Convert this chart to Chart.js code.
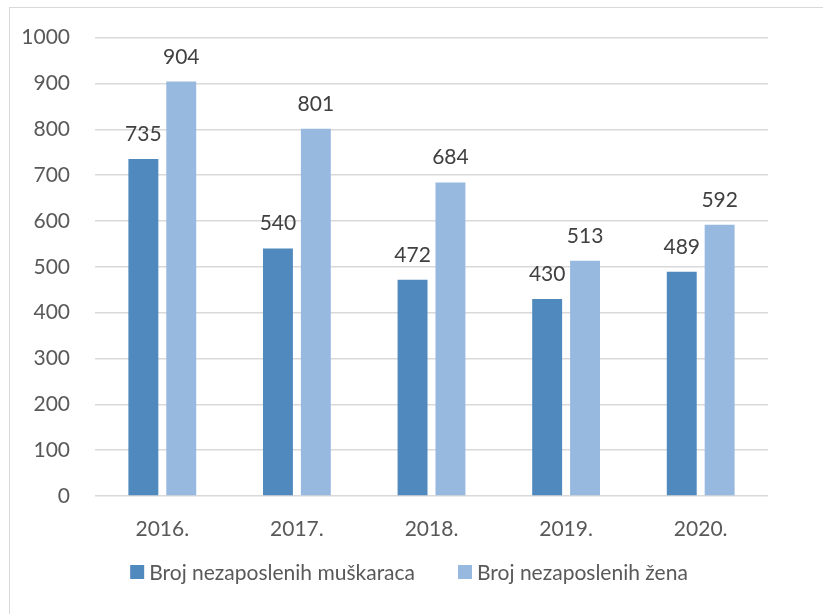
<!DOCTYPE html>
<html>
<head>
<meta charset="utf-8">
<script src="https://cdn.jsdelivr.net/npm/chart.js@4.4.1/dist/chart.umd.min.js"></script>
<style>
    html, body { margin: 0; padding: 0; background: #fff; overflow: hidden; }
    #frame {
        position: absolute; left: 9px; top: 7px; width: 900px; height: 700px;
        border: 1.5px solid #d9d9d9; box-sizing: border-box;
    }
    #wrap { position: absolute; left: 0; top: 0; width: 823px; height: 614px; }
</style>
</head>
<body>
<div id="frame"></div>
<div id="wrap"><canvas id="chart" width="823" height="614"></canvas></div>
<script>
// Podaci
const godine = ["2016.", "2017.", "2018.", "2019.", "2020."];
const muskarci = [735, 540, 472, 430, 489];
const zene = [904, 801, 684, 513, 592];
const yTicks = [0, 100, 200, 300, 400, 500, 600, 700, 800, 900, 1000];

const FONT = "Lato, 'Open Sans', sans-serif";
const FSIZE = 21;

// Oznake vrijednosti iznad stupaca + legenda ispod
const labelsPlugin = {
    id: "labelsPlugin",
    afterDatasetsDraw(chart) {
        const ctx = chart.ctx;
        ctx.save();
        ctx.font = FSIZE + "px " + FONT;
        ctx.fillStyle = "#404040";
        ctx.textAlign = "center";
        ctx.textBaseline = "alphabetic";
        chart.data.datasets.forEach((ds, i) => {
            chart.getDatasetMeta(i).data.forEach((bar, j) => {
                ctx.fillText(ds.data[j], bar.x, bar.y - 18);
            });
        });
        ctx.restore();
    },
    afterDraw(chart) {
        const ctx = chart.ctx;
        ctx.save();
        ctx.font = FSIZE + "px " + FONT;
        ctx.textBaseline = "middle";
        ctx.textAlign = "left";
        const box = 14, gapText = 5, gapItem = 43;
        const items = chart.data.datasets.map(ds => ({
            label: ds.label, color: ds.backgroundColor, w: ctx.measureText(ds.label).width
        }));
        let total = 0;
        items.forEach((it, i) => { total += box + gapText + it.w + (i ? gapItem : 0); });
        let x = 409 - total / 2;
        const y = 572;
        items.forEach(it => {
            ctx.fillStyle = it.color;
            ctx.fillRect(x, y - box / 2, box, box);
            x += box + gapText;
            ctx.fillStyle = "#595959";
            ctx.fillText(it.label, x, y + 1);
            x += it.w + gapItem;
        });
        ctx.restore();
    }
};

const ctx = document.getElementById("chart").getContext("2d");
new Chart(ctx, {
    type: "bar",
    data: {
        labels: godine,
        datasets: [
            {
                label: "Broj nezaposlenih muškaraca",
                data: muskarci,
                backgroundColor: "#4f89bd",
                categoryPercentage: 0.563,
                barPercentage: 0.79
            },
            {
                label: "Broj nezaposlenih žena",
                data: zene,
                backgroundColor: "#97b9e0",
                categoryPercentage: 0.563,
                barPercentage: 0.79
            }
        ]
    },
    options: {
        responsive: false,
        animation: false,
        layout: { padding: { left: 10, right: 55, top: 33, bottom: 58 } },
        plugins: {
            legend: { display: false },
            tooltip: { enabled: false }
        },
        scales: {
            x: {
                grid: { display: false },
                border: { display: false },
                ticks: { font: { family: FONT, size: FSIZE }, color: "#595959", padding: 13 },
                afterFit: scale => { scale.height = 60; }
            },
            y: {
                min: 0,
                max: 1000,
                afterBuildTicks: scale => { scale.ticks = yTicks.map(v => ({ value: v })); },
                grid: { color: "#d9d9d9", lineWidth: 1.5, drawTicks: false },
                border: { display: false },
                ticks: {
                    font: { family: FONT, size: FSIZE },
                    color: "#595959",
                    padding: 25,
                    callback: v => String(v)
                },
                afterFit: scale => { scale.width = 85; }
            }
        }
    },
    plugins: [labelsPlugin]
});
</script>
</body>
</html>
